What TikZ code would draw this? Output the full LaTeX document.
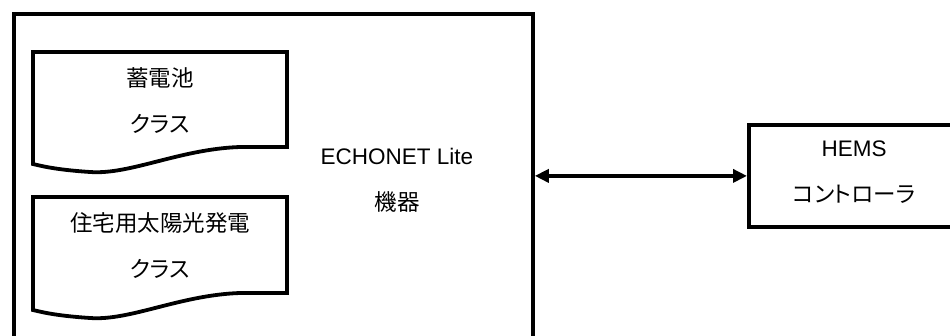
\documentclass[tikz,border=0pt]{standalone}
\usepackage{fontspec}
\setmainfont{Liberation Sans}
\newfontfamily\jp[RawFeature=+palt]{Noto Sans CJK JP}
\usetikzlibrary{arrows.meta}
\tikzset{
  frame/.style={draw=black, line width=3.8pt, fill=white, inner sep=0pt},
  docshape/.style={draw=black, line width=3.8pt, line join=miter, fill=white},
  lbl/.style={align=center, inner sep=0pt, font=\fontsize{22.5}{46}\selectfont},
  conn/.style={line width=3.8pt, {Triangle[length=14pt,width=13pt]}-{Triangle[length=14pt,width=13pt]}},
}
\begin{document}
\begin{tikzpicture}[x=1pt,y=-1pt]
\useasboundingbox (0,0) rectangle (950,336);
\clip (0,0) rectangle (950,336);
% outer device box
\node[frame, anchor=north west, minimum width=519pt, minimum height=345pt] (dev) at (12,12) {};
% document shapes
\draw[docshape]
  (33,52) -- (287,52) -- (287,147) -- (240,147)
  .. controls (180,149) and (130,175) .. (90,172)
  .. controls (60,170) and (45,167) .. (33,164) -- cycle;
\draw[docshape]
  (33,197) -- (287,197) -- (287,293) -- (240,293)
  .. controls (180,295) and (130,321) .. (90,318)
  .. controls (60,316) and (45,313) .. (33,310) -- cycle;
\node[lbl] (bat) at (160,101) {\jp 蓄電池\\\jp クラス};
\node[lbl] (pv) at (160,246) {\jp 住宅用太陽光発電\\\jp クラス};
\node[lbl] (devtxt) at (397,180) {ECHONET Lite\\\jp 機器};
% HEMS controller
\node[frame, anchor=north west, minimum width=230pt, minimum height=102pt] (hems) at (747,123) {};
\node[lbl] (hemstxt) at (854,172) {HEMS\\\jp コントローラ};
\draw[conn] (dev.east |- hems.west) -- (hems.west);
\end{tikzpicture}
\end{document}
